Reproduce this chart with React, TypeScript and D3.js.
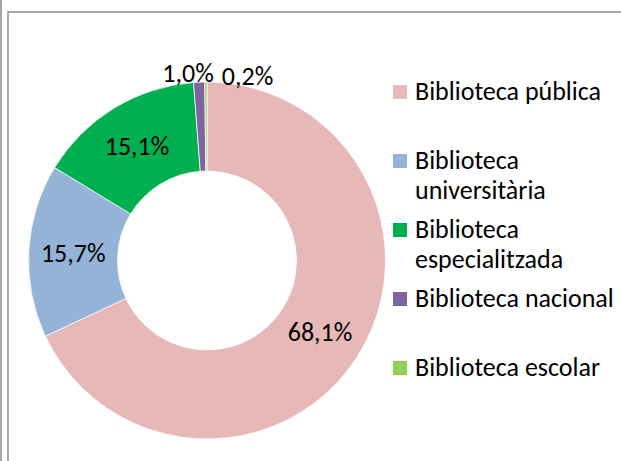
import React, { useRef, useEffect } from 'react';
import * as d3 from 'd3';

// data
const categories = [
  'Biblioteca pública',
  'Biblioteca universitària',
  'Biblioteca especialitzada',
  'Biblioteca nacional',
  'Biblioteca escolar',
];
const shares = [68.1, 15.7, 15.1, 1.0, 0.2];
const colors = ['#E6B9B8', '#95B3D7', '#00B050', '#8064A2', '#92D050'];
// legend text as it wraps in the picture
const legendLines = [
  ['Biblioteca pública'],
  ['Biblioteca', 'universitària'],
  ['Biblioteca', 'especialitzada'],
  ['Biblioteca nacional'],
  ['Biblioteca escolar'],
];

const W = 621;
const H = 461;
const FONT = "Carlito, Calibri, Lato, 'Open Sans', sans-serif";
const FS = 26;

const App = () => {
  const svgRef = useRef<SVGSVGElement>(null);

  useEffect(() => {
    const svg = d3.select(svgRef.current);
    svg.selectAll('*').remove();

    // frames
    svg.append('rect').attr('x', 0).attr('y', 0).attr('width', W).attr('height', H).attr('fill', '#fff');
    svg.append('line').attr('x1', 1).attr('x2', 1).attr('y1', 0).attr('y2', H)
      .attr('stroke', '#a6a6a6').attr('stroke-width', 2);
    svg.append('path').attr('d', `M8,${H} V12 H${W}`)
      .attr('fill', 'none').attr('stroke', '#8c8c8c').attr('stroke-width', 1.5);

    const cx = 207;
    const cy = 260.5;
    const outerR = 178.5;
    const innerR = 89.5;

    const pie = d3.pie<number>().sort(null).value(d => d);
    const arcs = pie(shares);
    const arc = d3.arc<d3.PieArcDatum<number>>().innerRadius(innerR).outerRadius(outerR);

    const g = svg.append('g').attr('transform', `translate(${cx},${cy})`);

    g.selectAll('path.slice')
      .data(arcs)
      .join('path')
      .attr('class', 'slice')
      .attr('d', arc)
      .attr('fill', (d, i) => colors[i])
      .attr('stroke', '#fff')
      .attr('stroke-width', 0.75);

    const fmt = (v: number) => v.toFixed(1).replace('.', ',') + '%';

    // labels: inside at centroid, small slices pushed outside the ring
    arcs.forEach((d, i) => {
      let x: number;
      let y: number;
      let anchor = 'middle';
      if (d.data >= 3) {
        [x, y] = arc.centroid(d);
      } else {
        const mid = (d.startAngle + d.endAngle) / 2;
        const rr = outerR + 9;
        x = Math.sin(mid) * rr;
        y = -Math.cos(mid) * rr;
        if (i === 3) { anchor = 'end'; x += 15; }
        else { anchor = 'start'; x += 16; y += 3; }
      }
      g.append('text')
        .attr('x', x)
        .attr('y', y)
        .attr('text-anchor', anchor)
        .attr('dominant-baseline', 'central')
        .attr('font-family', FONT)
        .attr('font-size', FS)
        .attr('fill', '#000')
        .text(fmt(d.data));
    });

    // legend
    const legendY = d3.scalePoint<number>()
      .domain(d3.range(categories.length))
      .range([92, 368]);
    const lineH = 30;
    const legend = svg.append('g');
    categories.forEach((c, i) => {
      const y0 = legendY(i) as number;
      legend.append('rect')
        .attr('x', 393).attr('y', y0 - 7)
        .attr('width', 14).attr('height', 14)
        .attr('fill', colors[i]);
      const t = legend.append('text')
        .attr('x', 415).attr('y', y0 - 1)
        .attr('dominant-baseline', 'central')
        .attr('font-family', FONT)
        .attr('font-size', FS)
        .attr('fill', '#000');
      legendLines[i].forEach((ln, k) => {
        t.append('tspan').attr('x', 415).attr('y', y0 - 1 + k * lineH).text(ln);
      });
    });
  }, []);

  return (
    <svg
      ref={svgRef}
      width={W}
      height={H}
      style={{ position: 'absolute', left: 0, top: 0 }}
    />
  );
};

export default App;
